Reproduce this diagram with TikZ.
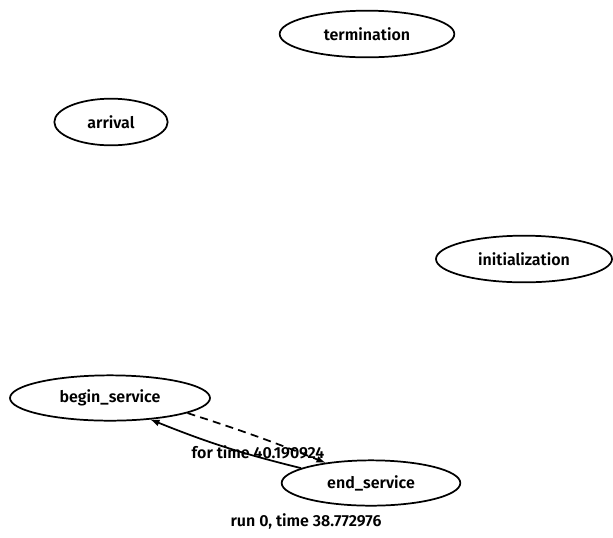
\documentclass[tikz,border=0pt]{standalone}
\usepackage{fontspec}
\setmainfont{Fira Sans}[BoldFont={Fira Sans SemiBold}]
\usepackage{tikz}
\usetikzlibrary{arrows,positioning,calc,shapes}

\tikzset{
  event/.style={draw,line width=1.3pt,ellipse,inner sep=0pt,minimum height=35pt,font=\fontsize{12}{14}\selectfont\bfseries},
  caption/.style={font=\fontsize{12}{14}\selectfont\bfseries,inner sep=0pt},
  sched/.style={line width=1.3pt,-latex}
}

\begin{document}
\begin{tikzpicture}[x=0.75pt,y=-0.75pt]
\useasboundingbox (0,0) rectangle (613,537);

% Events
\node[event,minimum width=131pt] (termination) at (367,34) {termination};
\node[event,minimum width=85pt] (arrival) at (111,122) {arrival};
\node[event,minimum width=132pt] (initialization) at (524,259) {initialization};
\node[event,minimum width=150pt,minimum height=34pt] (beginservice) at (110,398) {begin\_service};
\node[event,minimum width=134pt,minimum height=34pt] (endservice) at (371,483) {end\_service};

% Scheduling edges
\draw[sched] (endservice.168) to[bend left=4] (beginservice.-28);
\draw[sched,dash pattern=on 6pt off 4pt] (beginservice.-11) to[bend left=2] (endservice.156);

% Labels
\node[caption] (fortime) at (258,452) {for time 40.190924};
\node[caption] (runtime) at (306,521) {run 0, time 38.772976};
\end{tikzpicture}
\end{document}
